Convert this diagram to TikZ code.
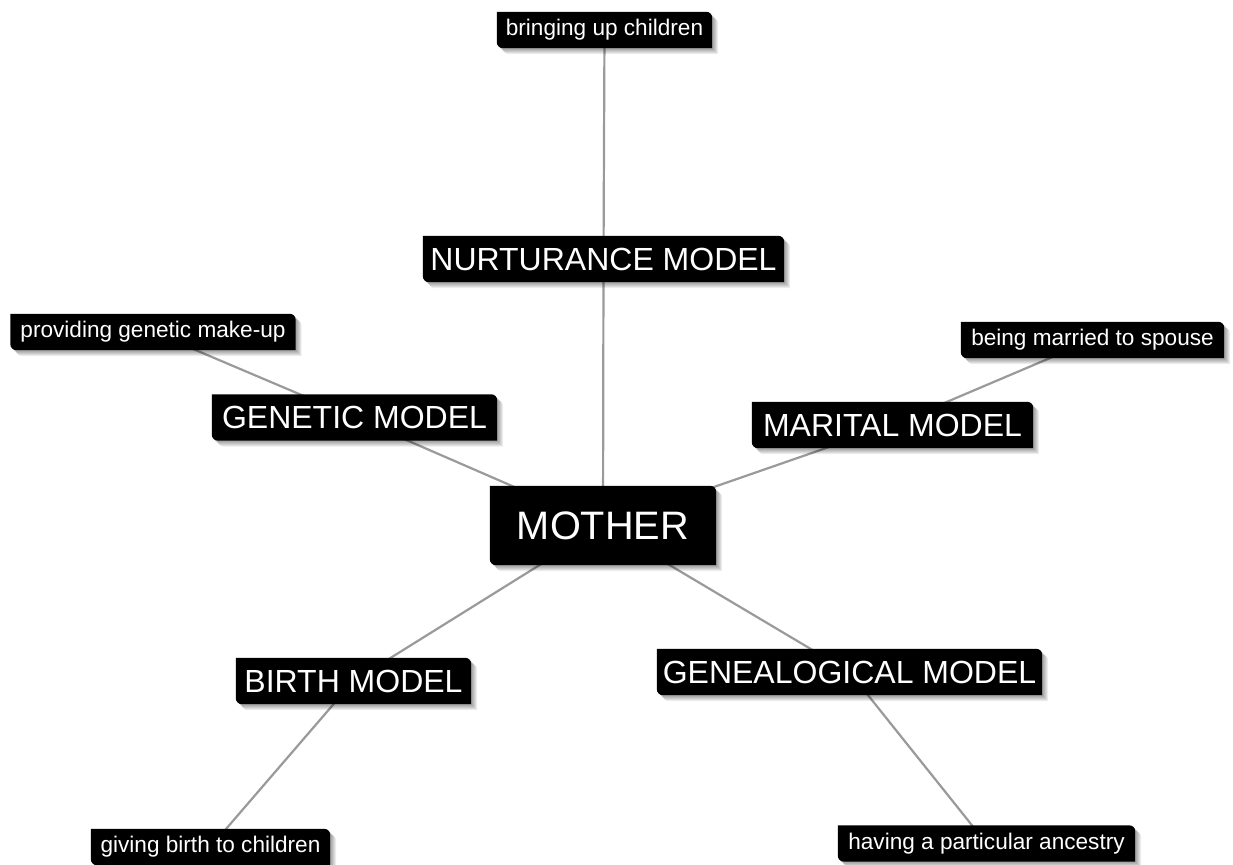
\documentclass[tikz,border=0pt]{standalone}
\usepackage{fontspec}
\setmainfont{Liberation Sans}
\usetikzlibrary{calc}
\pgfdeclarelayer{background}
\pgfsetlayers{background,main}
\definecolor{linkgray}{HTML}{9A9A9A}
\tikzset{
  x=1pt, y=1pt,
  tagtext/.style={inner sep=0pt, text=white, align=center},
  leaf/.style={tagtext, minimum height=36pt, font=\fontsize{22.6}{25}\selectfont},
  model/.style={tagtext, minimum height=46pt, font=\fontsize{32}{36}\selectfont},
  hub/.style={tagtext, minimum height=79pt, font=\fontsize{39.7}{44}\selectfont},
  link/.style={draw=linkgray, line width=2.2pt},
}
% tag shape: sharp top-left and bottom-right corners, rounded top-right and bottom-left
\newcommand\tagpath[3]{% node, x offset, y offset
  ([xshift=#2pt,yshift=#3pt]#1.north west)
  -- ([xshift=#2pt-6pt,yshift=#3pt]#1.north east)
  arc[start angle=90,end angle=0,radius=6pt]
  -- ([xshift=#2pt,yshift=#3pt]#1.south east)
  -- ([xshift=#2pt+6pt,yshift=#3pt]#1.south west)
  arc[start angle=270,end angle=180,radius=6pt]
  -- cycle}
\newcommand\tagbox[1]{%
  \foreach \k in {1,2,3,4,5,6}{\fill[black,opacity=0.07] \tagpath{#1}{\k}{-\k};}
  \fill[black] \tagpath{#1}{0}{0};}
\begin{document}
\begin{tikzpicture}
\useasboundingbox (0,0) rectangle (1233,864);

\node[hub,   minimum width=226pt] (mother)  at (603,338.5) {MOTHER};
\node[model, minimum width=361pt] (nurt)    at (603.5,605) {NURTURANCE MODEL};
\node[model, minimum width=285pt] (genetic) at (354.5,446.5) {GENETIC MODEL};
\node[model, minimum width=281pt] (marital) at (892.5,439) {MARITAL MODEL};
\node[model, minimum width=235pt] (birth)   at (353.5,183) {BIRTH MODEL};
\node[model, minimum width=385pt] (genea)   at (849.5,192) {GENEALOGICAL MODEL};

\node[leaf, minimum width=215pt] (bring)   at (604.5,834) {bringing up children};
\node[leaf, minimum width=285pt] (provide) at (153,532) {providing genetic make-up};
\node[leaf, minimum width=263pt] (married) at (1092.5,524) {being married to spouse};
\node[leaf, minimum width=239pt] (giving)  at (210.5,17) {giving birth to children};
\node[leaf, minimum width=297pt] (having)  at (986.5,20.5) {having a particular ancestry};

\begin{pgfonlayer}{background}
  \fill[white] (0,0) rectangle (1233,864);
  \draw[link] (mother.center) -- (nurt.center) -- (bring.center);
  \draw[link] (mother.center) -- (genetic.center) -- (provide.center);
  \draw[link] (mother.center) -- (marital.center) -- (married.center);
  \draw[link] (mother.center) -- (birth.center) -- (giving.center);
  \draw[link] (mother.center) -- (genea.center) -- (having.center);
  \foreach \n in {mother,nurt,genetic,marital,birth,genea,bring,provide,married,giving,having}
    {\tagbox{\n}}
\end{pgfonlayer}
\end{tikzpicture}
\end{document}
